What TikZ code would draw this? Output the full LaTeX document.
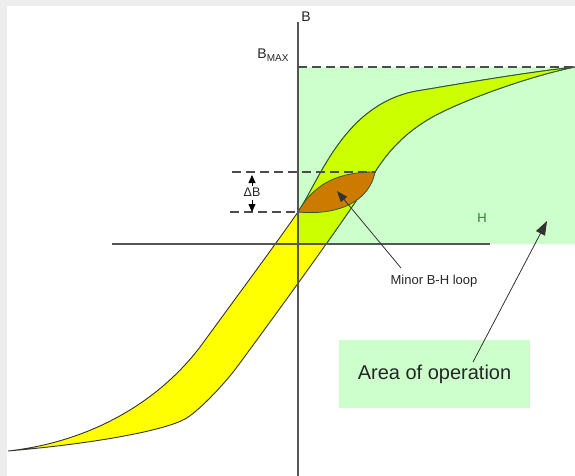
\documentclass[tikz,border=0pt]{standalone}
\usepackage{fontspec}
\setmainfont{Liberation Sans}
\usetikzlibrary{arrows.meta}
\definecolor{opgreen}{HTML}{CCFFCC}
\definecolor{bandyellow}{HTML}{FFFF00}
\definecolor{bandlime}{HTML}{CCFF00}
\definecolor{lensorange}{HTML}{CC7A00}
\definecolor{edgegreen}{HTML}{2E5A2E}
\definecolor{axisgray}{HTML}{555555}
\definecolor{bordergray}{HTML}{EDEDED}
\definecolor{hgreen}{HTML}{2E7D32}
\definecolor{txtgray}{HTML}{262626}
\tikzset{
  bandpath/.style={insert path={
    (8,451) .. controls (90,442) and (160,402) .. (203,343)
    .. controls (235,299) and (270,252) .. (298,212)
    .. controls (320,180) and (345,100) .. (423,90)
    .. controls (470,82) and (530,72) .. (575,67)
    .. controls (530,76) and (470,98) .. (440,113)
    .. controls (410,128) and (390,148) .. (375,172)
    .. controls (347,217) and (276,314) .. (237,367)
    .. controls (222,387) and (197,412.4) .. (185,419)
    .. controls (165,430) and (100,443) .. (8,451)
    -- cycle}},
  bandline/.style={line width=0.9pt},
  dashline/.style={black!70, line width=1.1pt, dash pattern=on 9pt off 5pt},
  lbl/.style={text=txtgray, inner sep=0pt, font=\fontsize{13}{15}\selectfont},
  pointer/.style={black!80, line width=0.8pt},
}
\begin{document}
\begin{tikzpicture}[x=1pt,y=-1pt]
\useasboundingbox (0,0) rectangle (575,476);
\fill[white] (0,0) rectangle (575,476);
\fill[bordergray] (0,0) rectangle (575,6);
\fill[bordergray] (0,0) rectangle (7,476);
% operating area
\fill[opgreen] (298,67) rectangle (575,244);
% major loop
\fill[bandyellow, bandpath];
\draw[black!80, bandline, bandpath];
\begin{scope}
  \clip (298,67) rectangle (575,244);
  \fill[bandlime, bandpath];
  \draw[edgegreen, bandline, bandpath];
\end{scope}
% minor loop
\filldraw[fill=lensorange, draw=edgegreen, line width=0.8pt]
  (298,212) .. controls (315,182) and (340,172) .. (375,172)
  .. controls (370,200) and (340,216) .. (298,212) -- cycle;
% axes
\draw[axisgray, line width=1.2pt] (298,22) -- (298,476);
\draw[axisgray, line width=1.5pt] (112,244) -- (490,244);
% dashed levels
\draw[dashline] (298,67) -- (575,67);
\draw[dashline] (232,172) -- (376,172);
\draw[dashline] (230,212) -- (298,212);
% labels
\node[lbl, font=\fontsize{14}{16}\selectfont] (blbl) at (306,17) {B};
\node[lbl, font=\fontsize{14}{16}\selectfont] (bmax) at (273,55) {B\raisebox{-0.45ex}{\fontsize{10}{10}\selectfont MAX}};
\node[lbl, font=\fontsize{12.5}{14}\selectfont] (dblbl) at (252,192) {ΔB};
\node[lbl, text=hgreen] (hlbl) at (482,218) {H};
\node[lbl] (minorlbl) at (434,281) {Minor B-H loop};
\node[fill=opgreen, text=txtgray, inner sep=0pt, minimum width=191pt, minimum height=68pt,
      font=\fontsize{20}{23}\selectfont] (areabox) at (434.5,374) {Area of operation};
% delta B arrows
\coordinate (dbupfrom) at (252,186);
\coordinate (dbupto) at (252,175);
\coordinate (dbdnfrom) at (252,200);
\coordinate (dbdnto) at (252,212);
\draw[black, line width=0.8pt, -{Triangle[length=8pt,width=7pt]}] (dbupfrom) -- (dbupto);
\draw[black, line width=0.8pt, -{Triangle[length=8pt,width=7pt]}] (dbdnfrom) -- (dbdnto);
% pointers
\coordinate (minortail) at (401,268);
\coordinate (minortip) at (337,191);
\draw[pointer, -{Triangle[length=11pt,width=8pt]}] (minortail) -- (minortip);
\coordinate (areatail) at (473,362);
\coordinate (areatip) at (547,221);
\draw[pointer, -{Triangle[length=14pt,width=10pt]}] (areatail) -- (areatip);
\end{tikzpicture}
\end{document}
